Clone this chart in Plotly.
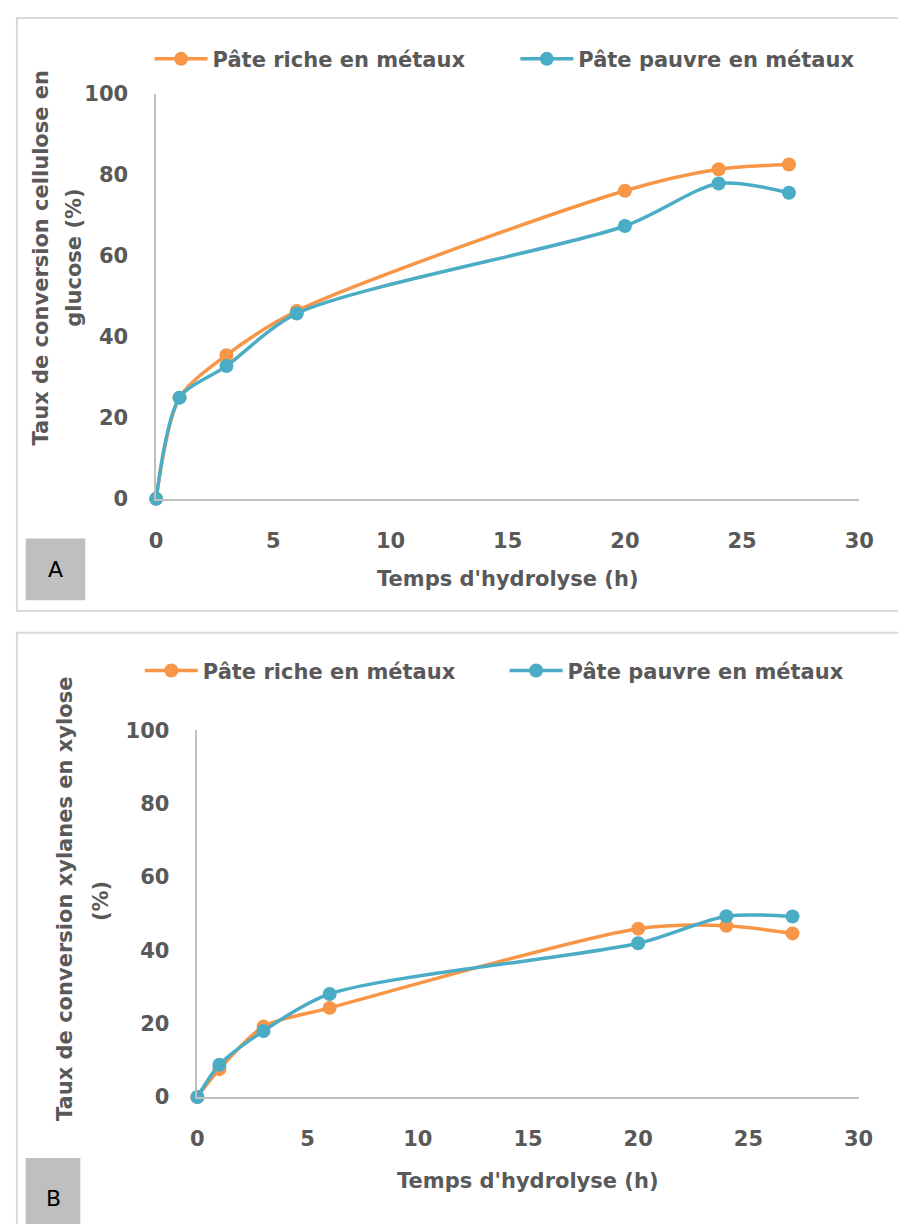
import plotly.graph_objects as go

# page is 906x1232; browser body margin is 8px, so the figure is 16px smaller
PAGE_W, PAGE_H = 906, 1232
OFF = 8
W, H = PAGE_W - 2 * OFF, PAGE_H - 2 * OFF

hours = [0, 1, 3, 6, 20, 24, 27]

# Panel A: cellulose -> glucose (%)
a_riche = [0, 25.0, 35.5, 46.4, 76.1, 81.4, 82.6]
a_pauvre = [0, 25.0, 32.8, 45.8, 67.4, 77.9, 75.6]

# Panel B: xylanes -> xylose (%)
b_riche = [0, 7.6, 19.2, 24.3, 45.9, 46.7, 44.6]
b_pauvre = [0, 8.8, 18.0, 28.1, 41.9, 49.3, 49.2]

name_riche = "Pâte riche en métaux"
name_pauvre = "Pâte pauvre en métaux"
x_ticks = [0, 5, 10, 15, 20, 25, 30]
y_ticks = [0, 20, 40, 60, 80, 100]

ORANGE = "#F79646"
BLUE = "#4BACC6"
GREY_TXT = "#595959"
AXIS = "#BFBFBF"
FONT = "DejaVu Sans"
FS = 21


def px(x):
    return (x - OFF) / W


def py(y):
    return 1 - (y - OFF) / H


fig = go.Figure()

series = [
    ("x", "y", a_riche, ORANGE, name_riche, "legend"),
    ("x", "y", a_pauvre, BLUE, name_pauvre, "legend2"),
    ("x2", "y2", b_riche, ORANGE, name_riche, "legend3"),
    ("x2", "y2", b_pauvre, BLUE, name_pauvre, "legend4"),
]
for xa, ya, vals, col, nm, lg in series:
    fig.add_trace(go.Scatter(
        x=hours, y=vals, name=nm, mode="lines+markers",
        line=dict(color=col, width=3.5, shape="spline", smoothing=0.8),
        marker=dict(color=col, size=14),
        xaxis=xa, yaxis=ya, legend=lg, cliponaxis=False,
    ))

axis_common = dict(
    showgrid=False, zeroline=False, showline=True, linecolor=AXIS, linewidth=1.5,
    ticks="", tickfont=dict(family=FONT, size=FS, color=GREY_TXT, weight="bold"),
    ticklabelstandoff=22,
)

leg_font = dict(family=FONT, size=FS, color=GREY_TXT, weight="bold")


def leg(x_line_start, y_center):
    return dict(orientation="h", x=px(x_line_start - 5), y=py(y_center),
                xanchor="left", yanchor="middle", itemwidth=53,
                bgcolor="rgba(0,0,0,0)", font=leg_font)


fig.update_layout(
    width=W, height=H,
    margin=dict(l=0, r=0, t=0, b=0),
    paper_bgcolor="white", plot_bgcolor="white",
    font=dict(family=FONT, size=FS, color=GREY_TXT),
    xaxis=dict(domain=[px(152.7), px(873.7)], range=[0, 30], tickvals=x_ticks,
               anchor="y", **axis_common),
    yaxis=dict(domain=[py(496.5), py(83.5)], range=[0, 100], tickvals=y_ticks,
               anchor="x", **axis_common),
    xaxis2=dict(domain=[px(195), px(873)], range=[0, 30], tickvals=x_ticks,
                anchor="y2", **axis_common),
    yaxis2=dict(domain=[py(1106.7), py(732.5)], range=[0, 100], tickvals=y_ticks,
                anchor="x2", **axis_common),
    legend=leg(151, 48),
    legend2=leg(526, 48),
    legend3=leg(141, 672),
    legend4=leg(515, 672),
    showlegend=True,
)


def open_frame(left, top, bottom, right=960):
    # frame whose right side lies beyond the page edge
    path = (f"M {px(right)},{py(top)} L {px(left)},{py(top)} L {px(left)},{py(bottom)}"
            f" L {px(right)},{py(bottom)}")
    return dict(type="path", xref="paper", yref="paper", path=path,
                line=dict(color="#D9D9D9", width=2), layer="below")


shapes = [
    open_frame(10, 6, 611),
    open_frame(10, 633, 1290),
    dict(type="rect", xref="paper", yref="paper", x0=px(19), x1=px(80), y0=py(600), y1=py(537),
         line=dict(width=0), fillcolor="#BFBFBF", layer="below"),
    dict(type="rect", xref="paper", yref="paper", x0=px(19), x1=px(75), y0=py(1250), y1=py(1169),
         line=dict(width=0), fillcolor="#BFBFBF", layer="below"),
]
fig.update_layout(shapes=shapes)

bold = dict(family=FONT, size=FS, color=GREY_TXT, weight="bold")


def ann(text, x, y, angle=0, font=bold):
    fig.add_annotation(text=text, x=px(x), y=py(y), xref="paper", yref="paper",
                       showarrow=False, textangle=angle, font=font,
                       xanchor="center", yanchor="middle")


ann("Temps d'hydrolyse (h)", 513, 578)
ann("Temps d'hydrolyse (h)", 534, 1192)
ann("Taux de conversion cellulose en", 35, 250, -90)
ann("glucose (%)", 69, 250, -90)
ann("Taux de conversion xylanes en xylose", 60, 905, -90)
ann("(%)", 96, 907, -90)
ann("A", 49.5, 569, font=dict(family=FONT, size=22, color="#000000"))
ann("B", 47, 1210, font=dict(family=FONT, size=22, color="#000000"))

fig.write_html("out.html")
